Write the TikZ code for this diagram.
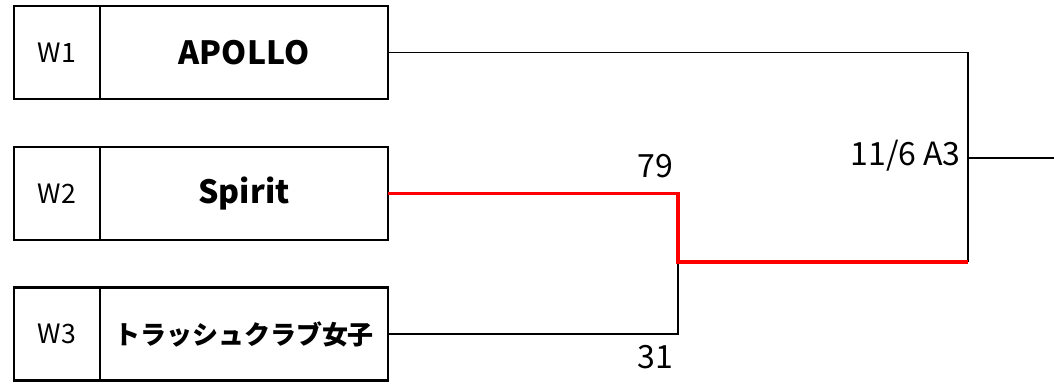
\documentclass[tikz,border=0pt]{standalone}
\usepackage{fontspec}
\setmainfont{Noto Sans CJK JP}
\usepackage{tikz}
\usetikzlibrary{positioning,calc}

\begin{document}
\begin{tikzpicture}[
    x=0.75pt, y=-0.75pt,
    idbox/.style={draw, rectangle, line width=1.6pt, outer sep=0pt, minimum width=64.5pt, minimum height=69.75pt, inner sep=0pt, font=\fontsize{20}{22}\selectfont},
    teambox/.style={draw, rectangle, line width=1.6pt, outer sep=0pt, minimum width=216pt, minimum height=69.75pt, inner sep=0pt, anchor=west, font=\fontsize{24}{26}\selectfont\bfseries},
    line/.style={line width=1.1pt},
    win/.style={line width=2.4pt, red},
    score/.style={font=\fontsize{24}{26}\selectfont, inner sep=0pt}
]
    \useasboundingbox (0,0) rectangle (1054,385);

    \node [idbox] (w1) at (57,52.5) {W1};
    \node [teambox] (t1) at (w1.east) {APOLLO};
    \node [idbox] (w2) at (57,193.5) {W2};
    \node [teambox] (t2) at (w2.east) {Spirit};
    \node [idbox] (w3) at (57,334) {W3};
    \node [teambox] (t3) at (w3.east) {\fontsize{19.5}{22}\selectfont トラッシュクラブ女子};

    \coordinate (m1) at (678,262);
    \coordinate (f1) at (968,262);
    \coordinate (out) at (1054,158);

    \draw [line] (t1.east) -| (f1);
    \draw [line] (t3.east) -| (m1);
    \draw [line] (f1 |- out) -- (out);
    \draw [win] (t2.east) -| (m1) -- (f1);

    \node [score] (s1) at (655,166) {79};
    \node [score] (s2) at (655,357) {31};
    \node [score, anchor=east] (game) at (961,156) {11/6 A3};
\end{tikzpicture}
\end{document}
